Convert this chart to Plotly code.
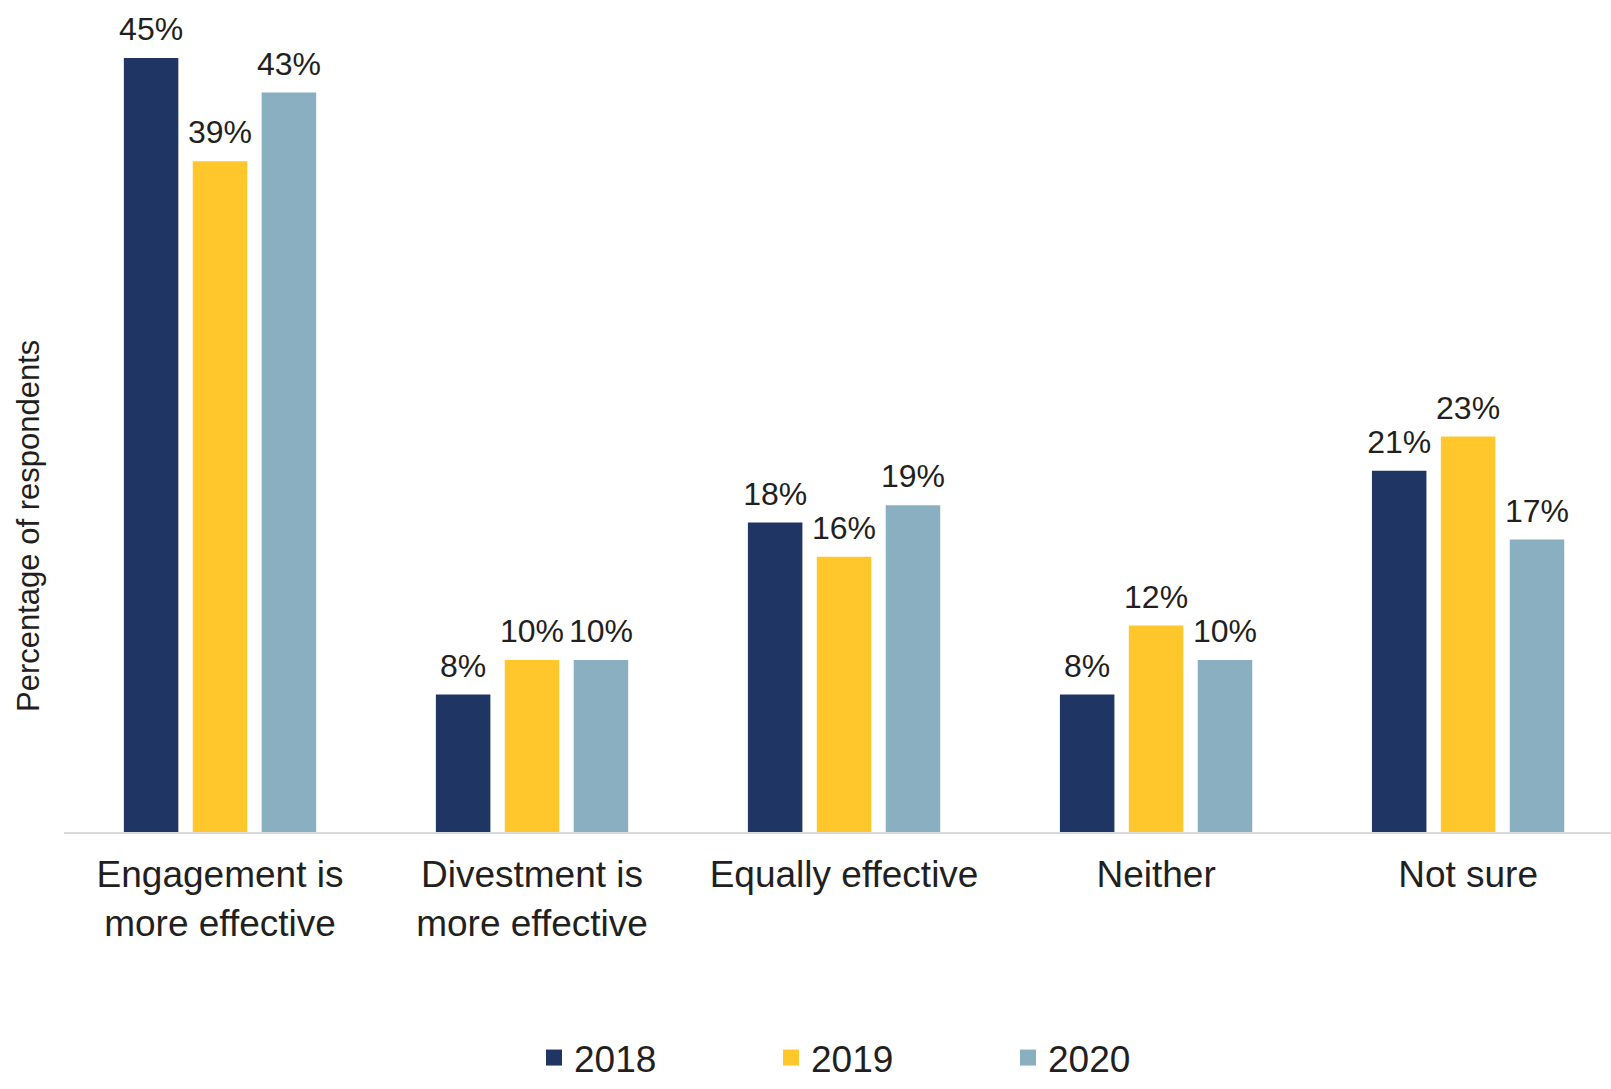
import plotly.graph_objects as go

# Survey responses: which approach is more effective
categories = [
    "Engagement is<br>more effective",
    "Divestment is<br>more effective",
    "Equally effective",
    "Neither",
    "Not sure",
]
years = ["2018", "2019", "2020"]
values_2018 = [45, 8, 18, 8, 21]
values_2019 = [39, 10, 16, 12, 23]
values_2020 = [43, 10, 19, 10, 17]
series = [values_2018, values_2019, values_2020]
colors = ["#1F3564", "#FFC72C", "#8AAFC0"]

TEXT = "#231F20"
FONT = "Liberation Sans, Arial, sans-serif"
GAP = 0.3375

fig = go.Figure()
for name, vals, col in zip(years, series, colors):
    fig.add_trace(go.Bar(
        name=name,
        x=categories,
        y=vals,
        legendgroup=name,
        showlegend=False,
        marker=dict(color=col, line=dict(width=0)),
    ))

# Value labels, grouped so each sits over its own bar
for name, vals in zip(years, series):
    fig.add_trace(go.Scatter(
        x=categories,
        y=vals,
        mode="markers+text",
        text=[f"{v}%" for v in vals],
        textposition="top center",
        textfont=dict(size=32, color=TEXT, family=FONT),
        marker=dict(size=14, opacity=0),
        offsetgroup=name,
        alignmentgroup="labels",
        legendgroup=name,
        showlegend=False,
        hoverinfo="skip",
        cliponaxis=False,
    ))

# Legend entries with larger square swatches
for name, col in zip(years, colors):
    fig.add_trace(go.Scatter(
        name=name,
        x=[None], y=[None],
        mode="markers",
        offsetgroup=name,
        alignmentgroup="labels",
        legendgroup=name,
        marker=dict(symbol="square", size=17, color=col),
    ))

fig.update_layout(
    width=1611,
    height=1089,
    barmode="group",
    bargap=GAP,
    bargroupgap=0.209,
    scattermode="group",
    scattergap=GAP,
    plot_bgcolor="white",
    paper_bgcolor="white",
    margin=dict(l=64, r=0, t=0, b=257),
    font=dict(family=FONT, color=TEXT),
    showlegend=True,
    legend=dict(
        orientation="h",
        xanchor="left",
        x=(534 - 64) / 1547,
        yanchor="bottom",
        y=-257 / 832,
        font=dict(size=37, color=TEXT, family=FONT),
        entrywidth=192,
        entrywidthmode="pixels",
        traceorder="normal",
        itemsizing="trace",
    ),
    xaxis=dict(
        range=[-0.5, 4.458],
        showline=True,
        linecolor="#D9D9D9",
        linewidth=2,
        ticks="",
        ticklabelstandoff=9,
        tickfont=dict(size=37, color=TEXT, family=FONT),
        showgrid=False,
    ),
    yaxis=dict(
        range=[0, 832 / 17.2],
        showticklabels=False,
        showgrid=False,
        zeroline=False,
        ticks="",
    ),
    annotations=[
        dict(
            text="Percentage of respondents",
            xref="paper", yref="paper",
            x=-36 / 1547, y=(832 - 526) / 832,
            xanchor="center", yanchor="middle",
            textangle=-90,
            showarrow=False,
            font=dict(size=31, color=TEXT, family=FONT),
        )
    ],
)

fig.write_html("out.html")
